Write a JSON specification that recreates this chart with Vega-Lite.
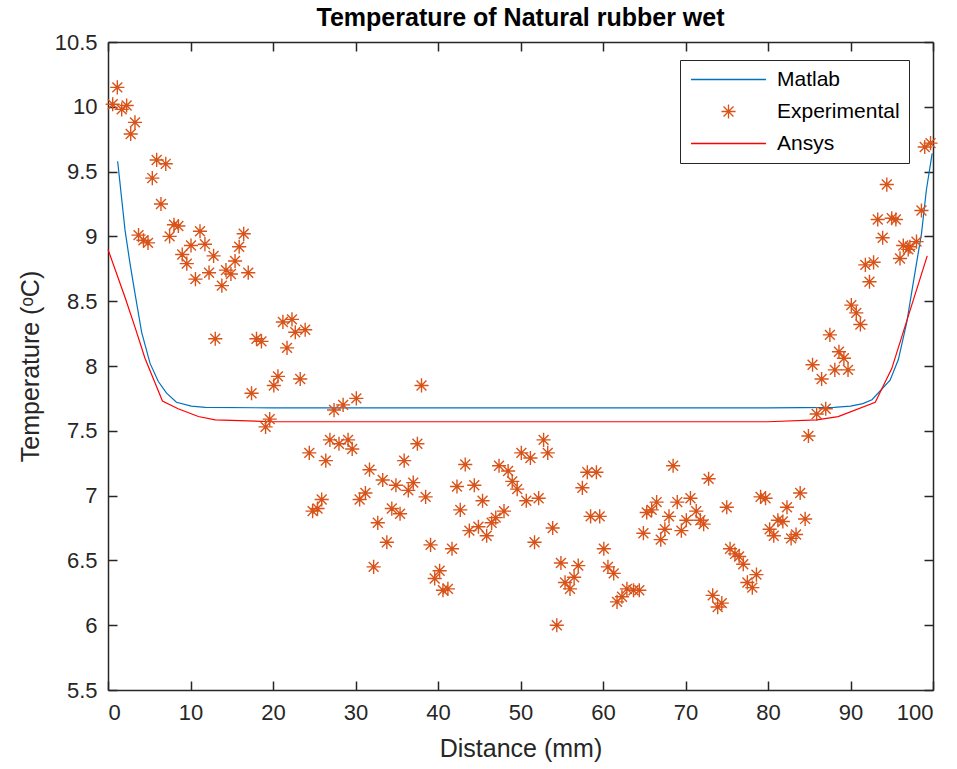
{
  "$schema": "https://vega.github.io/schema/vega-lite/v6.json",
  "width": 825,
  "height": 648,
  "autosize": {"type": "none"},
  "padding": {"left": 108, "top": 42, "right": 24, "bottom": 79},
  "background": "white",
  "title": {"text": "Temperature of Natural rubber wet", "fontSize": 25, "fontWeight": "bold", "font": "Liberation Sans", "color": "black", "offset": 0, "anchor": "middle"},
  "config": {
    "view": {"stroke": null},
    "axis": {"grid": false, "domainColor": "#262626", "tickColor": "#262626", "labelColor": "#262626", "titleColor": "#262626", "labelFont": "Liberation Sans", "titleFont": "Liberation Sans", "labelFontSize": 22, "titleFontSize": 25, "titleFontWeight": "normal", "domainWidth": 1.5, "tickWidth": 1.5, "tickSize": -9}
  },
  "datasets": {
    "lines": [
      {"series": "Matlab", "x": 1.17, "y": 9.58},
      {"series": "Matlab", "x": 2.06, "y": 9.05},
      {"series": "Matlab", "x": 2.67, "y": 8.79},
      {"series": "Matlab", "x": 3.27, "y": 8.56},
      {"series": "Matlab", "x": 4.08, "y": 8.26},
      {"series": "Matlab", "x": 5.1, "y": 8.02},
      {"series": "Matlab", "x": 6.1, "y": 7.88},
      {"series": "Matlab", "x": 7.1, "y": 7.79},
      {"series": "Matlab", "x": 8.3, "y": 7.72},
      {"series": "Matlab", "x": 10.1, "y": 7.69},
      {"series": "Matlab", "x": 11.8, "y": 7.68},
      {"series": "Matlab", "x": 20, "y": 7.677},
      {"series": "Matlab", "x": 80, "y": 7.677},
      {"series": "Matlab", "x": 88, "y": 7.68},
      {"series": "Matlab", "x": 90, "y": 7.69},
      {"series": "Matlab", "x": 91.5, "y": 7.71},
      {"series": "Matlab", "x": 92.6, "y": 7.74},
      {"series": "Matlab", "x": 94.8, "y": 7.89},
      {"series": "Matlab", "x": 95.8, "y": 8.05},
      {"series": "Matlab", "x": 96.8, "y": 8.33},
      {"series": "Matlab", "x": 97.6, "y": 8.64},
      {"series": "Matlab", "x": 98.6, "y": 9.02},
      {"series": "Matlab", "x": 99.2, "y": 9.36},
      {"series": "Matlab", "x": 99.9, "y": 9.64},
      {"series": "Ansys", "x": 0, "y": 8.9},
      {"series": "Ansys", "x": 2.06, "y": 8.53},
      {"series": "Ansys", "x": 3.27, "y": 8.3},
      {"series": "Ansys", "x": 4.48, "y": 8.06},
      {"series": "Ansys", "x": 6.6, "y": 7.73},
      {"series": "Ansys", "x": 8.5, "y": 7.67},
      {"series": "Ansys", "x": 10.95, "y": 7.61},
      {"series": "Ansys", "x": 13, "y": 7.585},
      {"series": "Ansys", "x": 20, "y": 7.57},
      {"series": "Ansys", "x": 80, "y": 7.57},
      {"series": "Ansys", "x": 85.9, "y": 7.585},
      {"series": "Ansys", "x": 88.5, "y": 7.61},
      {"series": "Ansys", "x": 93.0, "y": 7.72},
      {"series": "Ansys", "x": 95.0, "y": 7.98},
      {"series": "Ansys", "x": 99.3, "y": 8.85}
    ],
    "exp": [
      {"x": 0.57, "y": 10.02}, {"x": 1.13, "y": 10.15}, {"x": 1.66, "y": 9.98}, {"x": 2.26, "y": 10.01},
      {"x": 2.75, "y": 9.79}, {"x": 3.27, "y": 9.88}, {"x": 3.7, "y": 9.01}, {"x": 4.3, "y": 8.97},
      {"x": 4.85, "y": 8.95}, {"x": 5.37, "y": 9.45}, {"x": 5.9, "y": 9.59}, {"x": 6.42, "y": 9.25},
      {"x": 7.0, "y": 9.56}, {"x": 7.47, "y": 9.0}, {"x": 8.0, "y": 9.09}, {"x": 8.53, "y": 9.08},
      {"x": 9.0, "y": 8.86}, {"x": 9.55, "y": 8.79}, {"x": 10.06, "y": 8.93}, {"x": 10.6, "y": 8.67},
      {"x": 11.15, "y": 9.04}, {"x": 11.75, "y": 8.94}, {"x": 12.25, "y": 8.72}, {"x": 12.8, "y": 8.85},
      {"x": 13.0, "y": 8.21}, {"x": 13.8, "y": 8.62}, {"x": 14.3, "y": 8.74}, {"x": 14.9, "y": 8.71},
      {"x": 15.4, "y": 8.81}, {"x": 15.9, "y": 8.92}, {"x": 16.45, "y": 9.02}, {"x": 17.0, "y": 8.72},
      {"x": 17.4, "y": 7.79}, {"x": 18.0, "y": 8.21}, {"x": 18.6, "y": 8.19}, {"x": 19.1, "y": 7.53},
      {"x": 19.6, "y": 7.59}, {"x": 20.1, "y": 7.85}, {"x": 20.6, "y": 7.92}, {"x": 21.2, "y": 8.34},
      {"x": 21.7, "y": 8.14}, {"x": 22.3, "y": 8.36}, {"x": 22.7, "y": 8.26}, {"x": 23.3, "y": 7.9},
      {"x": 23.9, "y": 8.28}, {"x": 24.4, "y": 7.33}, {"x": 24.8, "y": 6.88}, {"x": 25.4, "y": 6.9},
      {"x": 25.9, "y": 6.97}, {"x": 26.4, "y": 7.27}, {"x": 26.9, "y": 7.43}, {"x": 27.4, "y": 7.66},
      {"x": 28.0, "y": 7.4}, {"x": 28.5, "y": 7.7}, {"x": 29.1, "y": 7.43}, {"x": 29.6, "y": 7.36},
      {"x": 30.1, "y": 7.75}, {"x": 30.5, "y": 6.97}, {"x": 31.2, "y": 7.02}, {"x": 31.7, "y": 7.2},
      {"x": 32.2, "y": 6.45}, {"x": 32.7, "y": 6.79}, {"x": 33.3, "y": 7.12}, {"x": 33.8, "y": 6.64},
      {"x": 34.4, "y": 6.9}, {"x": 34.9, "y": 7.08}, {"x": 35.4, "y": 6.86}, {"x": 35.9, "y": 7.27},
      {"x": 36.4, "y": 7.04}, {"x": 37.0, "y": 7.1}, {"x": 37.5, "y": 7.4}, {"x": 38.0, "y": 7.85},
      {"x": 38.5, "y": 6.99}, {"x": 39.1, "y": 6.62}, {"x": 39.6, "y": 6.36}, {"x": 40.2, "y": 6.42},
      {"x": 40.6, "y": 6.27}, {"x": 41.2, "y": 6.28}, {"x": 41.7, "y": 6.59}, {"x": 42.3, "y": 7.07},
      {"x": 42.7, "y": 6.89}, {"x": 43.3, "y": 7.24}, {"x": 43.8, "y": 6.73}, {"x": 44.4, "y": 7.08},
      {"x": 44.9, "y": 6.76}, {"x": 45.4, "y": 6.96}, {"x": 45.9, "y": 6.69}, {"x": 46.5, "y": 6.79},
      {"x": 47.0, "y": 6.83}, {"x": 47.4, "y": 7.23}, {"x": 48.0, "y": 6.88}, {"x": 48.5, "y": 7.19},
      {"x": 49.0, "y": 7.11}, {"x": 49.6, "y": 7.05}, {"x": 50.1, "y": 7.33}, {"x": 50.7, "y": 6.96},
      {"x": 51.2, "y": 7.29}, {"x": 51.7, "y": 6.64}, {"x": 52.2, "y": 6.98}, {"x": 52.8, "y": 7.43},
      {"x": 53.3, "y": 7.33}, {"x": 53.9, "y": 6.75}, {"x": 54.4, "y": 6.0}, {"x": 54.9, "y": 6.48},
      {"x": 55.4, "y": 6.33}, {"x": 56.0, "y": 6.28}, {"x": 56.5, "y": 6.37}, {"x": 57.0, "y": 6.46},
      {"x": 57.5, "y": 7.06}, {"x": 58.1, "y": 7.18}, {"x": 58.5, "y": 6.84}, {"x": 59.2, "y": 7.18},
      {"x": 59.6, "y": 6.84}, {"x": 60.1, "y": 6.59}, {"x": 60.6, "y": 6.45}, {"x": 61.3, "y": 6.4},
      {"x": 61.7, "y": 6.18}, {"x": 62.3, "y": 6.22}, {"x": 62.9, "y": 6.28}, {"x": 63.7, "y": 6.27},
      {"x": 64.4, "y": 6.27}, {"x": 64.9, "y": 6.71}, {"x": 65.3, "y": 6.87}, {"x": 65.9, "y": 6.89},
      {"x": 66.5, "y": 6.95}, {"x": 67.0, "y": 6.66}, {"x": 67.5, "y": 6.74}, {"x": 68.0, "y": 6.84},
      {"x": 68.5, "y": 7.23}, {"x": 69.0, "y": 6.95}, {"x": 69.5, "y": 6.73}, {"x": 70.1, "y": 6.81},
      {"x": 70.6, "y": 6.98}, {"x": 71.3, "y": 6.88}, {"x": 71.8, "y": 6.81}, {"x": 72.2, "y": 6.78},
      {"x": 72.8, "y": 7.13}, {"x": 73.3, "y": 6.23}, {"x": 73.9, "y": 6.14}, {"x": 74.4, "y": 6.17},
      {"x": 75.0, "y": 6.91}, {"x": 75.4, "y": 6.59}, {"x": 76.0, "y": 6.55}, {"x": 76.5, "y": 6.53},
      {"x": 77.0, "y": 6.47}, {"x": 77.5, "y": 6.33}, {"x": 78.1, "y": 6.29}, {"x": 78.6, "y": 6.39},
      {"x": 79.1, "y": 6.99}, {"x": 79.7, "y": 6.98}, {"x": 80.2, "y": 6.74}, {"x": 80.7, "y": 6.69},
      {"x": 81.2, "y": 6.81}, {"x": 81.8, "y": 6.8}, {"x": 82.3, "y": 6.91}, {"x": 82.8, "y": 6.67},
      {"x": 83.4, "y": 6.7}, {"x": 83.9, "y": 7.02}, {"x": 84.5, "y": 6.82}, {"x": 84.9, "y": 7.46},
      {"x": 85.4, "y": 8.01}, {"x": 85.9, "y": 7.63}, {"x": 86.5, "y": 7.9}, {"x": 87.0, "y": 7.67},
      {"x": 87.5, "y": 8.24}, {"x": 88.1, "y": 7.97}, {"x": 88.6, "y": 8.11}, {"x": 89.2, "y": 8.06},
      {"x": 89.7, "y": 7.97}, {"x": 90.1, "y": 8.47}, {"x": 90.7, "y": 8.41}, {"x": 91.2, "y": 8.32},
      {"x": 91.8, "y": 8.78}, {"x": 92.3, "y": 8.65}, {"x": 92.8, "y": 8.8}, {"x": 93.3, "y": 9.13},
      {"x": 93.9, "y": 8.99}, {"x": 94.4, "y": 9.4}, {"x": 95.0, "y": 9.14}, {"x": 95.5, "y": 9.13},
      {"x": 96.0, "y": 8.83}, {"x": 96.4, "y": 8.93}, {"x": 97.0, "y": 8.9}, {"x": 97.2, "y": 8.92},
      {"x": 98.0, "y": 8.96}, {"x": 98.6, "y": 9.2}, {"x": 99.0, "y": 9.69}, {"x": 99.7, "y": 9.72}
    ]
  },
  "layer": [
    {
      "data": {"name": "lines"},
      "mark": {"type": "line", "strokeWidth": 1.2},
      "encoding": {
        "x": {"field": "x", "type": "quantitative", "scale": {"domain": [0, 100], "nice": false, "zero": false},
              "axis": {"orient": "bottom", "values": [0,10,20,30,40,50,60,70,80,90,100], "format": "d", "labelPadding": 21, "title": "Distance (mm)", "titlePadding": 13}},
        "y": {"field": "y", "type": "quantitative", "scale": {"domain": [5.5, 10.5], "nice": false, "zero": false},
              "axis": {"orient": "left", "values": [5.5,6,6.5,7,7.5,8,8.5,9,9.5,10,10.5], "labelExpr": "'' + datum.value", "labelPadding": 20, "title": "Temperature (ᵒC)", "titlePadding": 11}},
        "color": {"field": "series", "type": "nominal",
                  "scale": {"domain": ["Matlab", "Experimental", "Ansys"], "range": ["#0072BD", "#D95319", "#FF0000"]},
                  "legend": {"title": null, "orient": "none", "legendX": 572, "legendY": 18, "symbolSize": 200, "symbolStrokeWidth": 1.3, "symbolOffset": 29, "labelOffset": 38, "labelFontSize": 21, "labelFont": "Liberation Sans", "labelColor": "black", "padding": 9, "rowPadding": 10, "strokeColor": "#262626", "fillColor": "white", "symbolFillColor": "transparent"}}
      }
    },
    {
      "data": {"name": "exp"},
      "mark": {"type": "point", "filled": false, "strokeWidth": 1.4, "size": 200, "opacity": 1},
      "encoding": {
        "x": {"field": "x", "type": "quantitative", "axis": {"orient": "top", "labels": false, "title": null, "values": [0,10,20,30,40,50,60,70,80,90,100]}},
        "y": {"field": "y", "type": "quantitative", "axis": {"orient": "right", "labels": false, "title": null, "values": [5.5,6,6.5,7,7.5,8,8.5,9,9.5,10,10.5]}},
        "color": {"datum": "Experimental", "type": "nominal"},
        "shape": {"datum": "Experimental", "type": "nominal",
                  "scale": {"domain": ["Matlab", "Experimental", "Ansys"], "range": ["M-5.3,0L5.3,0", "M-1,0L1,0M0,-1L0,1M-0.7,-0.7L0.7,0.7M-0.7,0.7L0.7,-0.7", "M-5.3,0L5.3,0"]}}
      }
    }
  ],
  "resolve": {"axis": {"x": "independent", "y": "independent"}}
}
